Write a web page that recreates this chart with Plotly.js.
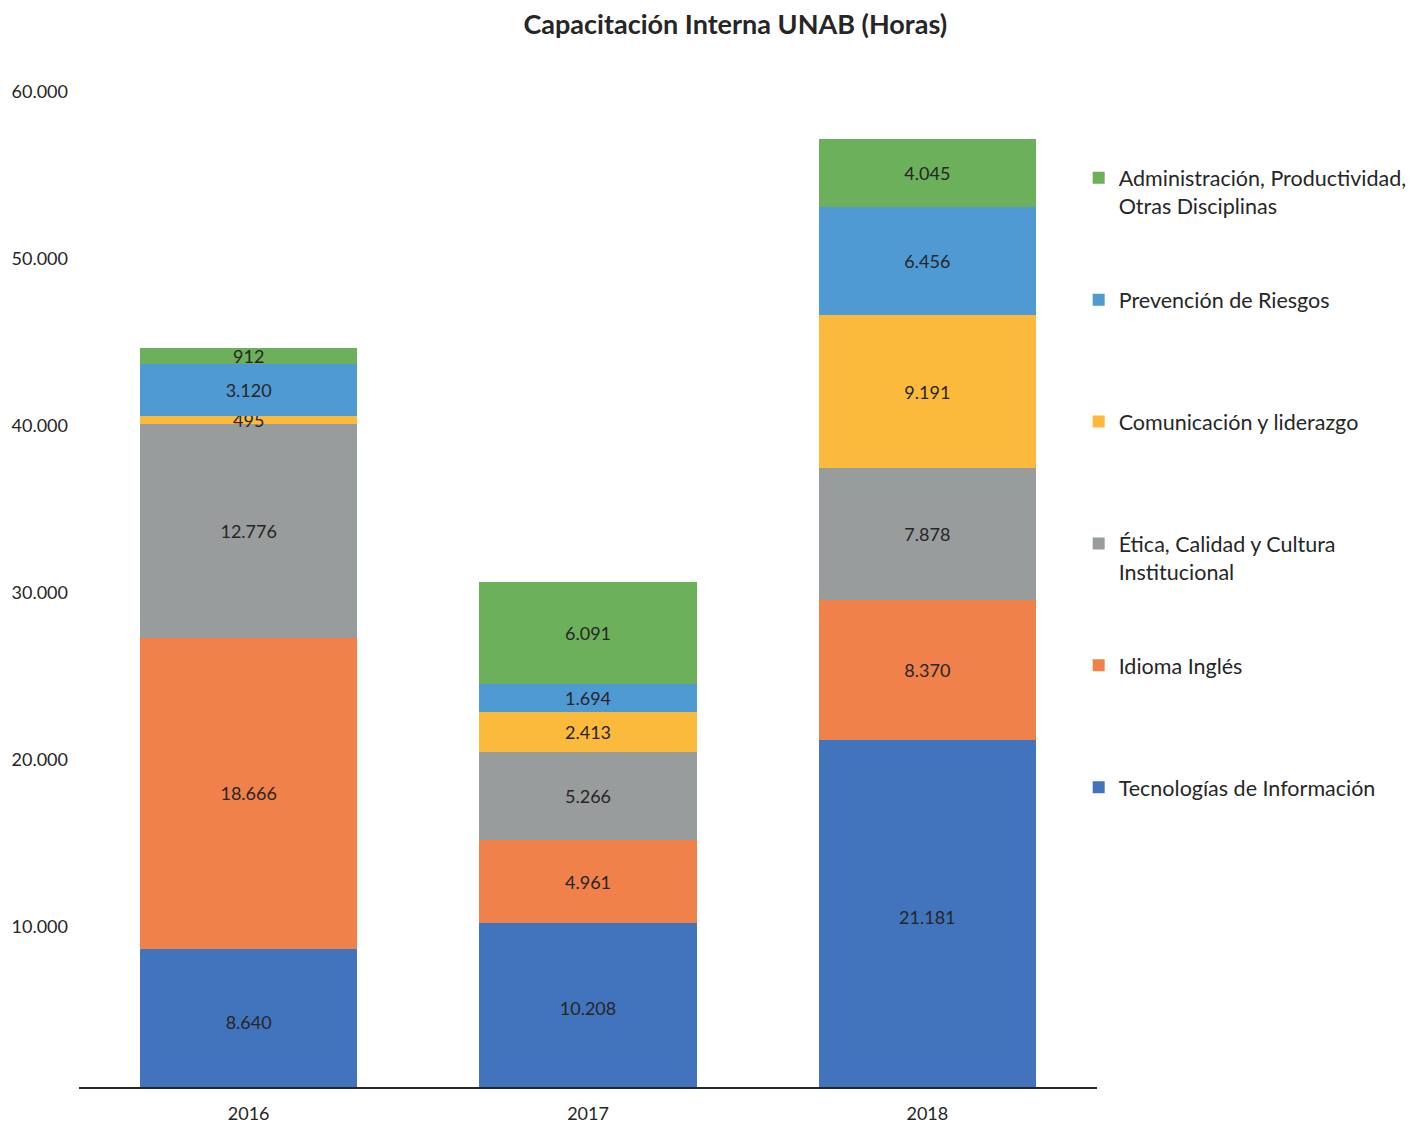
<!DOCTYPE html>
<html>
<head>
<meta charset="utf-8">
<script src="https://cdn.plot.ly/plotly-3.0.1.min.js"></script>
<style>html,body{margin:0;padding:0;background:#fff;}#chart{width:1425px;height:1124px;}</style>
</head>
<body>
<div id="chart"></div>
<script>
const years = ["2016", "2017", "2018"];
const tecnologias = [8640, 10208, 21181];
const ingles = [18666, 4961, 8370];
const etica = [12776, 5266, 7878];
const comunicacion = [495, 2413, 9191];
const prevencion = [3120, 1694, 6456];
const administracion = [912, 6091, 4045];
const seriesNames = [
  "Tecnologías de Información<br> ",
  "Idioma Inglés<br> ",
  "Ética, Calidad y Cultura<br>Institucional",
  "Comunicación y liderazgo<br> ",
  "Prevención de Riesgos<br> ",
  "Administración, Productividad,<br>Otras Disciplinas"
];
const seriesValues = [tecnologias, ingles, etica, comunicacion, prevencion, administracion];
const colors = ["#4174BD", "#F0814A", "#999C9D", "#FBBA3C", "#509AD4", "#6CB05B"];
const yTicks = [10000, 20000, 30000, 40000, 50000, 60000];

const fontFam = "Lato, 'Open Sans', sans-serif";
const traces = seriesValues.map((vals, i) => ({
  type: "bar",
  name: seriesNames[i],
  x: years,
  y: vals,
  marker: {color: colors[i], line: {width: 0}},
  texttemplate: "%{y:,d}",
  textposition: "inside",
  insidetextanchor: "middle",
  constraintext: "none",
  textangle: 0,
  textfont: {family: fontFam, size: 18, color: "#262626"},
  legendgroup: "g" + i,
  legendrank: 100 - i,
  hoverinfo: "skip"
}));

const layout = {
  width: 1425, height: 1124,
  barmode: "stack",
  bargap: 0.36,
  separators: ",.",
  paper_bgcolor: "#fff", plot_bgcolor: "#fff",
  margin: {l: 79, r: 328, t: 83, b: 37},
  title: {text: "<b>Capacitación Interna UNAB (Horas)</b>", font: {family: fontFam, size: 27, color: "#262626", weight: 900}, x: 0.516, xanchor: "center", y: 0.978, yanchor: "middle"},
  xaxis: {
    type: "category", range: [-0.5, 2.5],
    showline: true, linecolor: "#262626", linewidth: 2,
    ticks: "", ticklabelstandoff: 9,
    tickfont: {family: fontFam, size: 18, color: "#262626"},
    showgrid: false, zeroline: false
  },
  yaxis: {
    range: [400, 60500],
    tickvals: yTicks, tickformat: ",d",
    showgrid: false, zeroline: false, showline: false, ticks: "",
    ticklabelstandoff: 10,
    tickfont: {family: fontFam, size: 18, color: "#262626"}
  },
  legend: {
    x: 0.982, xanchor: "left", y: 0.926, yanchor: "top",
    traceorder: "grouped", tracegroupgap: 63, valign: "top",
    font: {family: fontFam, size: 21.5, color: "#262626"},
    itemwidth: 30
  },
  showlegend: true
};

Plotly.newPlot("chart", traces, layout, {displayModeBar: false, staticPlot: true});
</script>
</body>
</html>
